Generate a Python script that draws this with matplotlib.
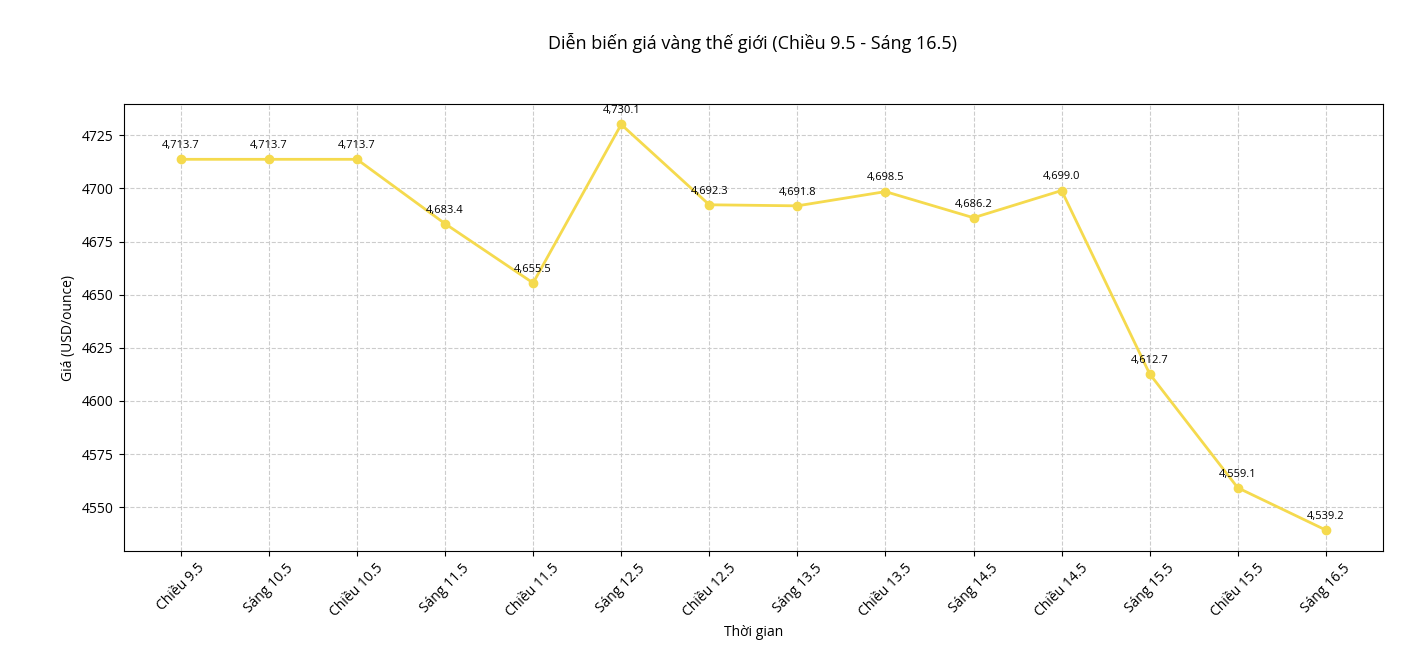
import matplotlib
matplotlib.use("Agg")
import matplotlib.pyplot as plt

labels = ["Chiều 9.5", "Sáng 10.5", "Chiều 10.5", "Sáng 11.5", "Chiều 11.5", "Sáng 12.5",
          "Chiều 12.5", "Sáng 13.5", "Chiều 13.5", "Sáng 14.5", "Chiều 14.5", "Sáng 15.5",
          "Chiều 15.5", "Sáng 16.5"]
prices = [4713.7, 4713.7, 4713.7, 4683.4, 4655.5, 4730.1, 4692.3, 4691.8, 4698.5,
          4686.2, 4699.0, 4612.7, 4559.1, 4539.2]

plt.rcParams['font.family'] = ['Open Sans', 'DejaVu Sans']

fig = plt.figure(figsize=(14.2, 6.6), dpi=100)
ax = fig.add_axes([0.087, 0.165, 0.887, 0.677])

x = list(range(len(labels)))
ax.plot(x, prices, color="#F5DA4E", linewidth=2, marker="o", markersize=6)
for i, v in enumerate(prices):
    ax.annotate(f"{v:,.1f}", (i, v), textcoords="offset points", xytext=(0, 8),
                ha="center", fontsize=8)

ax.set_xlim(-0.65, 13.65)
ax.set_ylim(4529.3, 4739.6)
ax.set_xticks(x)
ax.set_xticklabels(labels, rotation=45, fontsize=10)
ax.tick_params(axis="y", labelsize=10)
ax.grid(True, linestyle="--", color="#cccccc", linewidth=0.8)
ax.set_xlabel("Thời gian", fontsize=10)
ax.set_ylabel("Giá (USD/ounce)", fontsize=10)
fig.suptitle("Diễn biến giá vàng thế giới (Chiều 9.5 - Sáng 16.5)", fontsize=13, x=0.53, y=0.95)

fig.savefig("out.png", dpi=100)
